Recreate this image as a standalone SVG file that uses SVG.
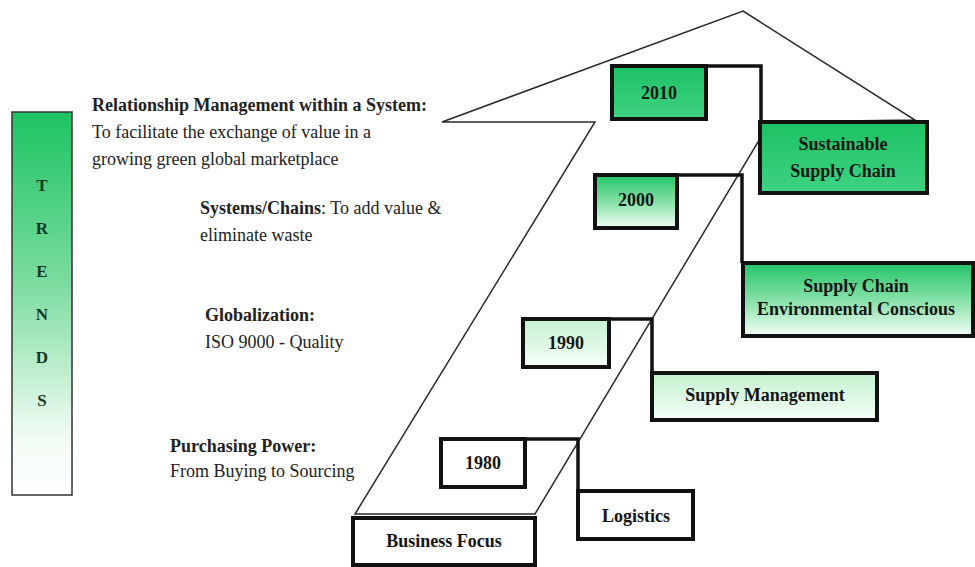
<svg xmlns="http://www.w3.org/2000/svg" width="975" height="567" viewBox="0 0 975 567">
  <defs>
    <linearGradient id="gSolid" x1="0" y1="0" x2="0" y2="1">
      <stop offset="0" stop-color="#1cc263"/>
      <stop offset="1" stop-color="#3fd283"/>
    </linearGradient>
    <linearGradient id="gFade" x1="0" y1="0" x2="0" y2="1">
      <stop offset="0" stop-color="#22c466"/>
      <stop offset="0.55" stop-color="#8ee3ae"/>
      <stop offset="1" stop-color="#f4fff6"/>
    </linearGradient>
    <linearGradient id="gLight" x1="0" y1="0" x2="0" y2="1">
      <stop offset="0" stop-color="#c4f0cf"/>
      <stop offset="1" stop-color="#f6fff7"/>
    </linearGradient>
    <linearGradient id="gTrends" x1="0" y1="0" x2="0" y2="1">
      <stop offset="0" stop-color="#1cc463"/>
      <stop offset="0.45" stop-color="#7cdca0"/>
      <stop offset="0.85" stop-color="#f2fcf4"/>
      <stop offset="1" stop-color="#ffffff"/>
    </linearGradient>
    <style>
      .box { stroke: #111; stroke-width: 4; }
      .lbl { font-family: "Liberation Serif", "Times New Roman", serif; font-weight: bold; font-size: 18px; fill: #151515; text-anchor: middle; }
      .txt { font-family: "Liberation Serif", "Times New Roman", serif; font-size: 18px; fill: #222; }
      .b { font-weight: bold; }
      .link { fill: none; stroke: #111; stroke-width: 3.5; }
      .outline { fill: none; stroke: #2a2a2a; stroke-width: 1.5; stroke-linejoin: miter; }
      .trend { font-family: "Liberation Serif", "Times New Roman", serif; font-weight: bold; font-size: 17px; fill: #153a22; text-anchor: middle; }
    </style>
  </defs>

  <rect width="975" height="567" fill="#ffffff"/>

  <!-- rising arrow outline -->
  <path class="outline" d="M743,11 L915,120 L770,122 L535,514 L355,514 L595,122 L442,122 Z"/>

  <!-- trends bar -->
  <g id="trends">
    <rect x="12" y="112" width="60" height="383" fill="url(#gTrends)" stroke="#333" stroke-width="1.5"/>
    <text class="trend" x="42" y="191">T</text>
    <text class="trend" x="42" y="234">R</text>
    <text class="trend" x="42" y="277">E</text>
    <text class="trend" x="42" y="320">N</text>
    <text class="trend" x="42" y="363">D</text>
    <text class="trend" x="42" y="406">S</text>
  </g>

  <!-- trend descriptions -->
  <g id="trend-2010">
    <text class="txt b" x="92" y="111">Relationship Management within a System:</text>
    <text class="txt" x="92" y="138">To facilitate the exchange of value in a</text>
    <text class="txt" x="92" y="165">growing green global marketplace</text>
  </g>
  <g id="trend-2000">
    <text class="txt" x="200" y="214"><tspan class="b">Systems/Chains</tspan>: To add value &amp;</text>
    <text class="txt" x="200" y="241">eliminate waste</text>
  </g>
  <g id="trend-1990">
    <text class="txt b" x="205" y="321">Globalization:</text>
    <text class="txt" x="205" y="348">ISO 9000 - Quality</text>
  </g>
  <g id="trend-1980">
    <text class="txt b" x="170" y="452">Purchasing Power:</text>
    <text class="txt" x="170" y="477">From Buying to Sourcing</text>
  </g>

  <!-- connectors from each year to its focus -->
  <g id="connectors">
    <polyline class="link" points="706,66 761,66 761,122"/>
    <polyline class="link" points="677,175 742,175 742,263"/>
    <polyline class="link" points="609,319 652,319 652,373"/>
    <polyline class="link" points="525,439 578,439 578,491"/>
  </g>

  <!-- year nodes -->
  <g id="y2010">
    <rect class="box" x="612" y="66" width="94" height="53" fill="url(#gSolid)"/>
    <text class="lbl" x="659" y="99">2010</text>
  </g>
  <g id="y2000">
    <rect class="box" x="595" y="175" width="82" height="53" fill="url(#gFade)"/>
    <text class="lbl" x="636" y="206">2000</text>
  </g>
  <g id="y1990">
    <rect class="box" x="523" y="319" width="86" height="48" fill="url(#gLight)"/>
    <text class="lbl" x="566" y="349">1990</text>
  </g>
  <g id="y1980">
    <rect class="box" x="441" y="439" width="84" height="48" fill="#ffffff"/>
    <text class="lbl" x="483" y="469">1980</text>
  </g>

  <!-- focus nodes -->
  <g id="sustainable">
    <rect class="box" x="760" y="122" width="167" height="71" fill="url(#gSolid)"/>
    <text class="lbl" x="843" y="150">Sustainable</text>
    <text class="lbl" x="843" y="177">Supply  Chain</text>
  </g>
  <g id="environmental">
    <rect class="box" x="743" y="263" width="230" height="73" fill="url(#gFade)"/>
    <text class="lbl" x="856" y="292">Supply  Chain</text>
    <text class="lbl" x="856" y="315">Environmental  Conscious</text>
  </g>
  <g id="supply-management">
    <rect class="box" x="652" y="373" width="225" height="47" fill="url(#gLight)"/>
    <text class="lbl" x="765" y="401">Supply Management</text>
  </g>
  <g id="logistics">
    <rect class="box" x="578" y="491" width="115" height="48" fill="#ffffff"/>
    <text class="lbl" x="636" y="522">Logistics</text>
  </g>
  <g id="business-focus">
    <rect class="box" x="353" y="518" width="182" height="47" fill="#ffffff"/>
    <text class="lbl" x="444" y="547">Business Focus</text>
  </g>
</svg>
